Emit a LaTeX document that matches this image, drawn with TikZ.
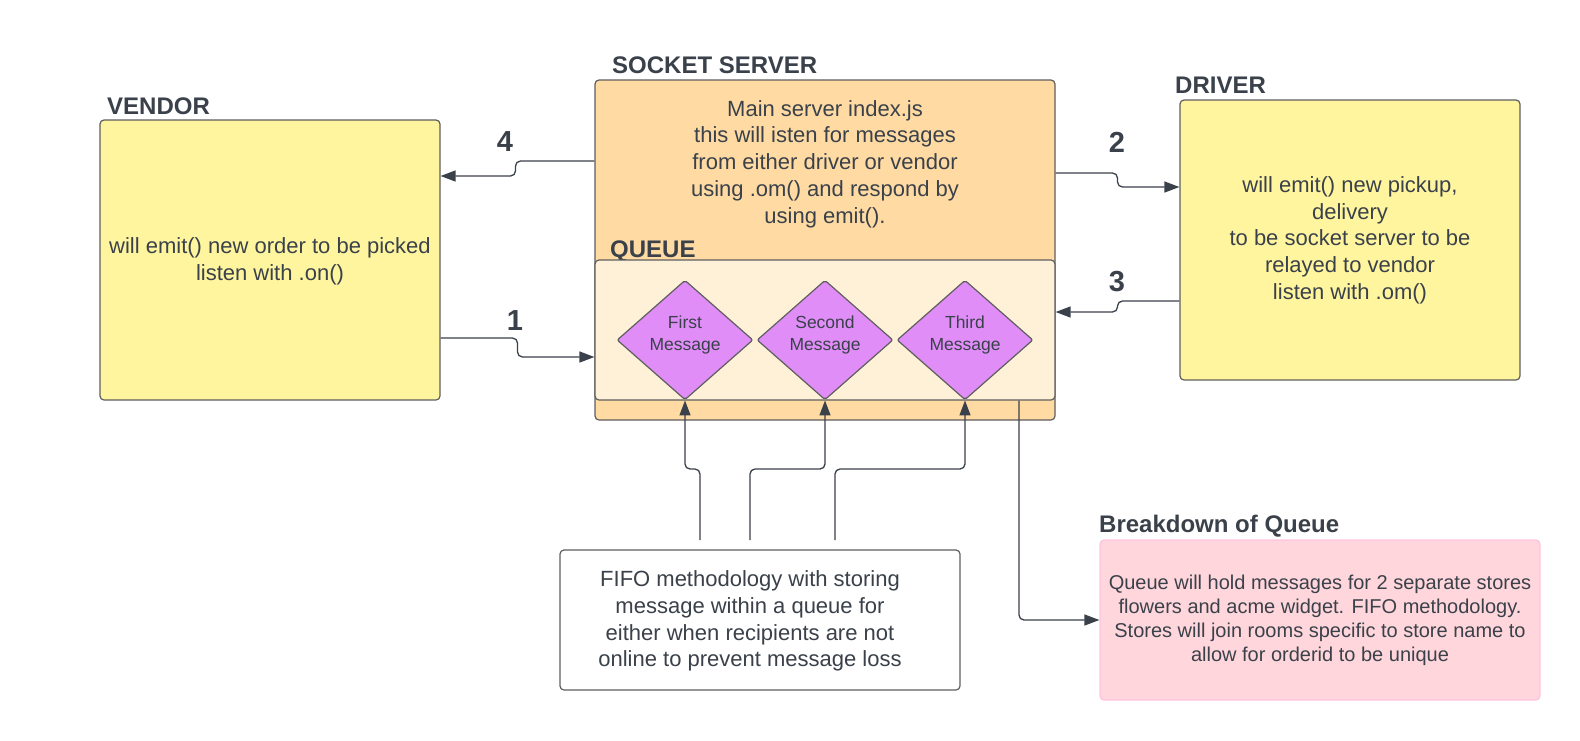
\documentclass[tikz,border=0pt]{standalone}
\usepackage{fontspec}
\setmainfont{Liberation Sans}
\usepackage{tikz}
\usetikzlibrary{arrows.meta,shapes.geometric}

\definecolor{ink}{HTML}{3A414A}
\definecolor{edge}{HTML}{5E5E5E}
\definecolor{lemon}{HTML}{FFF59F}
\definecolor{apricot}{HTML}{FFDBA3}
\definecolor{cream}{HTML}{FFF1D8}
\definecolor{orchid}{HTML}{E08DF8}
\definecolor{blush}{HTML}{FFD6DB}
\definecolor{blushedge}{HTML}{FFC4E2}

\begin{document}
\begin{tikzpicture}[x=1pt,y=-1pt,
    box/.style={draw=edge,line width=1.2pt,rounded corners=4pt,inner sep=0pt},
    txt/.style={text=ink,align=center,inner sep=0pt,font=\fontsize{22}{26.7}\selectfont},
    title/.style={text=ink,anchor=base west,inner sep=0pt,font=\fontsize{24}{28}\selectfont\bfseries},
    num/.style={text=ink,inner sep=0pt,font=\fontsize{29}{30}\selectfont\bfseries},
    msg/.style={diamond,draw=edge,line width=1.2pt,fill=orchid,rounded corners=2pt,minimum width=136pt,minimum height=116pt,inner sep=0pt,text depth=14pt,text=ink,align=center,font=\fontsize{17.5}{22}\selectfont},
    conn/.style={draw=ink,line width=1.3pt,rounded corners=5pt,-{Triangle[length=15pt,width=11pt]}}]
    \useasboundingbox (0,0) rectangle (1580,740);

    % vendor
    \node[title] (vendortitle) at (107,114) {VENDOR};
    \node[box,fill=lemon,minimum width=340pt,minimum height=280pt] (vendor) at (270,260) {};
    \node[txt] (vendortext) at (270,261) {will emit() new order to be picked\\listen with .on()};

    % socket server
    \node[title] (servertitle) at (612,73) {SOCKET SERVER};
    \node[box,fill=apricot,minimum width=460pt,minimum height=340pt] (server) at (825,250) {};
    \node[txt] (servertext) at (825,164) {Main server index.js\\this will isten for messages\\from either driver or vendor\\using .om() and respond by\\using emit().};

    % queue
    \node[title] (queuetitle) at (610,257) {QUEUE};
    \node[box,fill=cream,minimum width=460pt,minimum height=140pt] (queue) at (825,330) {};
    \node[msg] (m1) at (685,340) {First\\Message};
    \node[msg] (m2) at (825,340) {Second\\Message};
    \node[msg] (m3) at (965,340) {Third\\Message};

    % driver
    \node[title] (drivertitle) at (1175,93) {DRIVER};
    \node[box,fill=lemon,minimum width=340pt,minimum height=280pt] (driver) at (1350,240) {};
    \node[txt] (drivertext) at (1350,240) {will emit() new pickup,\\delivery\\to be socket server to be\\relayed to vendor\\listen with .om()};

    % fifo note
    \node[box,fill=white,minimum width=400pt,minimum height=140pt] (fifo) at (760,620) {};
    \node[txt] (fifotext) at (750,621) {FIFO methodology with storing\\message within a queue for\\either when recipients are not\\online to prevent message loss};

    % breakdown
    \node[title] (breaktitle) at (1099,532) {Breakdown of Queue};
    \node[box,draw=blushedge,fill=blush,minimum width=440pt,minimum height=160pt] (breakdown) at (1320,620) {};
    \node[txt,font=\fontsize{20}{24}\selectfont] (breaktext) at (1320,620) {Queue will hold messages for 2 separate stores\\flowers and acme widget. FIFO methodology.\\Stores will join rooms specific to store name to\\allow for orderid to be unique};

    % numbered arrows
    \draw[conn] (vendor.east |- 0,338) -- (517.5,338) -- (517.5,357) -- (queue.west |- 0,357);
    \draw[conn] (server.east |- 0,173) -- (1117.5,173) -- (1117.5,187) -- (driver.west |- 0,187);
    \draw[conn] (driver.west |- 0,301) -- (1117.5,301) -- (1117.5,312) -- (queue.east |- 0,312);
    \draw[conn] (server.west |- 0,161) -- (515.5,161) -- (515.5,176) -- (vendor.east |- 0,176);
    \node[num] (n1) at (515,321) {1};
    \node[num] (n2) at (1117,142) {2};
    \node[num] (n3) at (1117,282) {3};
    \node[num] (n4) at (505,142) {4};

    % fifo into the messages
    \coordinate (f1) at (700,540);
    \coordinate (f2) at (750,540);
    \coordinate (f3) at (835,540);
    \draw[conn] (f1) |- (m1.south |- 0,469) -- (m1.south);
    \draw[conn] (f2) |- (m2.south |- 0,469) -- (m2.south);
    \draw[conn] (f3) |- (m3.south |- 0,469) -- (m3.south);

    % queue to breakdown
    \draw[conn] (queue.south -| 1019,0) |- (breakdown.west);

\end{tikzpicture}
\end{document}
